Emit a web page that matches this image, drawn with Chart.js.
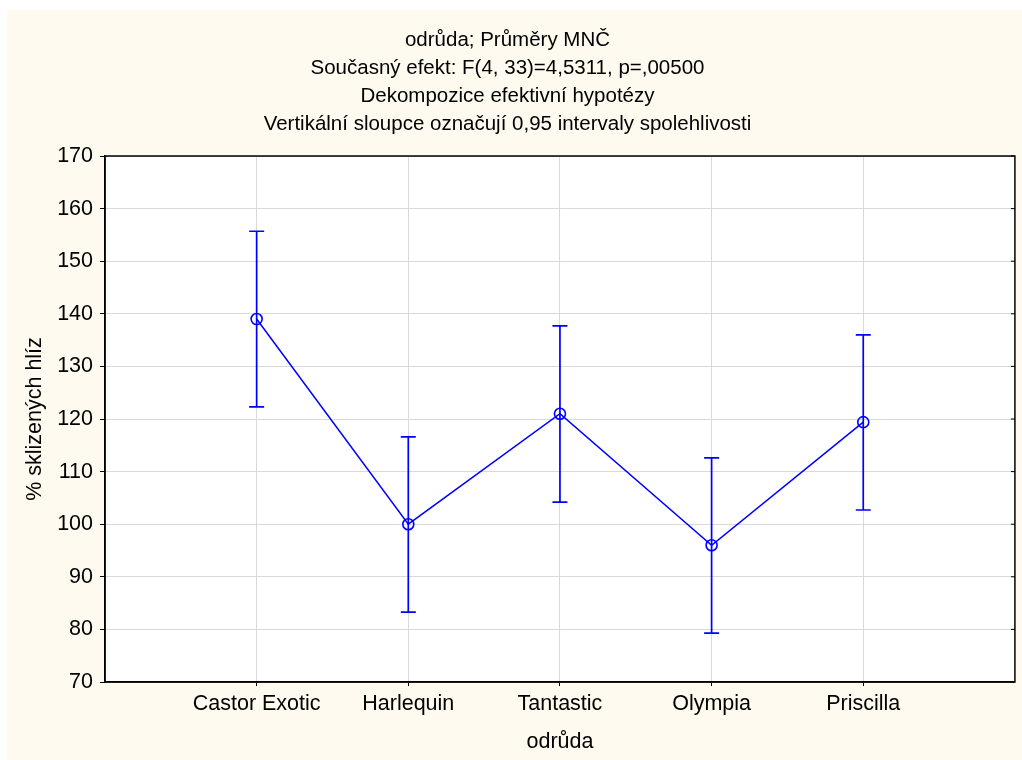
<!DOCTYPE html>
<html>
<head>
<meta charset="utf-8">
<script src="https://cdn.jsdelivr.net/npm/chart.js@4"></script>
<style>
    body { margin: 0; background: #ffffff; }
</style>
</head>
<body>
<canvas id="meansChart" width="1022" height="760"></canvas>
<script>
// Data
const categories = ['Castor Exotic', 'Harlequin', 'Tantastic', 'Olympia', 'Priscilla'];
const means = [139.0, 100.0, 121.0, 96.0, 119.4];
const ciLow = [122.3, 83.3, 104.2, 79.3, 102.7];
const ciHigh = [155.7, 116.6, 137.7, 112.6, 136.0];
const yMin = 70;
const yMax = 170;
const yStep = 10;
const titleLines = [
    'odrůda; Průměry MNČ',
    'Současný efekt: F(4, 33)=4,5311, p=,00500',
    'Dekompozice efektivní hypotézy',
    'Vertikální sloupce označují 0,95 intervaly spolehlivosti'
];
const xTitle = 'odrůda';
const yTitle = '% sklizených hlíz';

const FONT = 'Liberation Sans, Arial, sans-serif';
const BLUE = '#0000ff';

// cream page, white plot area
const backgroundPlugin = {
    id: 'background',
    beforeDraw(chart) {
        const ctx = chart.ctx;
        const a = chart.chartArea;
        ctx.save();
        ctx.fillStyle = '#ffffff';
        ctx.fillRect(0, 0, chart.width, chart.height);
        ctx.fillStyle = '#fffaef';
        ctx.fillRect(7, 10, chart.width - 7, chart.height - 10);
        ctx.fillStyle = '#ffffff';
        ctx.fillRect(a.left, a.top, a.right - a.left, a.bottom - a.top);
        ctx.restore();
    }
};

// confidence interval whiskers + frame
const errorBarPlugin = {
    id: 'errorBars',
    afterDatasetsDraw(chart) {
        const ctx = chart.ctx;
        const xs = chart.scales.x;
        const ys = chart.scales.y;
        ctx.save();
        ctx.strokeStyle = BLUE;
        ctx.lineWidth = 1.7;
        for (let i = 0; i < categories.length; i++) {
            const x = xs.getPixelForValue(i + 1);
            const yHi = ys.getPixelForValue(ciHigh[i]);
            const yLo = ys.getPixelForValue(ciLow[i]);
            ctx.beginPath();
            ctx.moveTo(x, yHi);
            ctx.lineTo(x, yLo);
            ctx.moveTo(x - 7.5, yHi);
            ctx.lineTo(x + 7.5, yHi);
            ctx.moveTo(x - 7.5, yLo);
            ctx.lineTo(x + 7.5, yLo);
            ctx.stroke();
        }
        ctx.restore();
    },
    afterDraw(chart) {
        const ctx = chart.ctx;
        const a = chart.chartArea;
        const ys = chart.scales.y;
        ctx.save();
        ctx.strokeStyle = '#000000';
        ctx.lineWidth = 1.5;
        ctx.strokeRect(a.left, a.top, a.right - a.left, a.bottom - a.top);
        // small inner ticks on the right edge
        ctx.lineWidth = 1;
        ys.ticks.forEach(t => {
            const y = ys.getPixelForValue(t.value);
            ctx.beginPath();
            ctx.moveTo(a.right - 4, y);
            ctx.lineTo(a.right, y);
            ctx.stroke();
        });
        ctx.restore();
    }
};

new Chart(document.getElementById('meansChart').getContext('2d'), {
    type: 'line',
    data: {
        datasets: [{
            label: 'Průměr',
            data: means.map((m, i) => ({ x: i + 1, y: m })),
            borderColor: BLUE,
            borderWidth: 1.5,
            pointStyle: 'circle',
            pointRadius: 5.5,
            pointBorderWidth: 1.6,
            pointBorderColor: BLUE,
            pointBackgroundColor: 'rgba(0,0,0,0)',
            tension: 0
        }]
    },
    options: {
        responsive: false,
        animation: false,
        layout: {
            padding: { left: 0, right: 7, top: 0, bottom: 0 }
        },
        plugins: {
            legend: { display: false },
            tooltip: { enabled: false },
            title: {
                display: true,
                text: titleLines,
                color: '#000000',
                font: { family: FONT, size: 20.5, weight: 'normal', lineHeight: 1.366 },
                padding: { top: 26, bottom: 18 }
            }
        },
        scales: {
            x: {
                type: 'linear',
                min: 0,
                max: categories.length + 1,
                afterBuildTicks: function(scale) {
                    scale.ticks = categories.map((c, i) => ({ value: i + 1 }));
                },
                afterFit: function(scale) {
                    scale.height = 78;
                },
                ticks: {
                    color: '#000000',
                    font: { family: FONT, size: 21.5 },
                    padding: 5,
                    maxRotation: 0,
                    autoSkip: false,
                    callback: function(value) {
                        return categories[value - 1] || '';
                    }
                },
                grid: {
                    color: '#d9d9d9',
                    tickColor: '#000000',
                    tickLength: 4
                },
                border: { display: true, color: '#000000', width: 1.5 },
                title: {
                    display: true,
                    text: xTitle,
                    color: '#000000',
                    font: { family: FONT, size: 21.5 },
                    padding: { top: 0, bottom: 5 }
                }
            },
            y: {
                min: yMin,
                max: yMax,
                afterFit: function(scale) {
                    scale.width = 105;
                },
                ticks: {
                    stepSize: yStep,
                    color: '#000000',
                    font: { family: FONT, size: 21.5 },
                    padding: 7
                },
                grid: {
                    color: '#d9d9d9',
                    tickColor: '#000000',
                    tickLength: 5
                },
                border: { display: true, color: '#000000', width: 1.5 },
                title: {
                    display: true,
                    text: yTitle,
                    color: '#000000',
                    font: { family: FONT, size: 21.5 },
                    padding: { top: 22, bottom: 0 }
                }
            }
        }
    },
    plugins: [backgroundPlugin, errorBarPlugin]
});
</script>
</body>
</html>
